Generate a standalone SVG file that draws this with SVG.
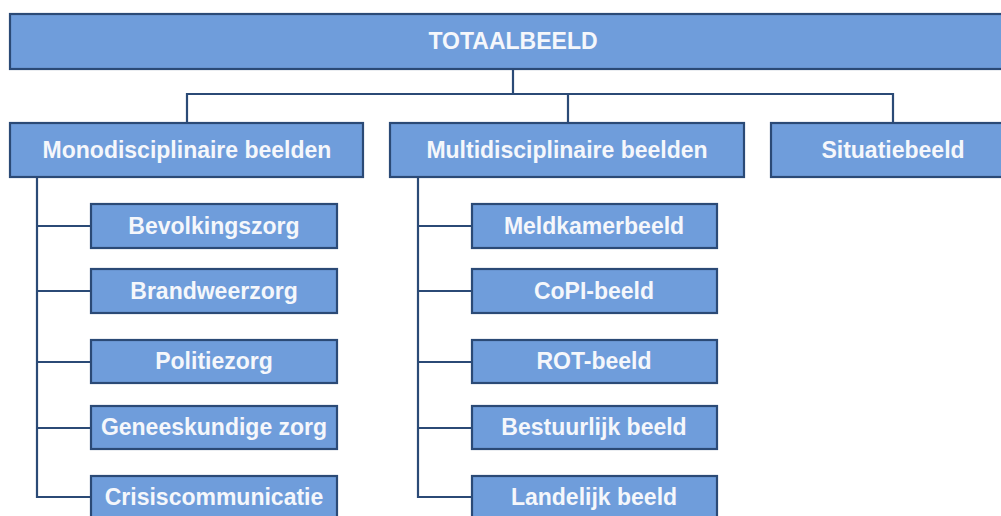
<svg xmlns="http://www.w3.org/2000/svg" width="1001" height="516" viewBox="0 0 1001 516">
<style>
.box{fill:#6f9ddb;stroke:#2b4a76;stroke-width:2.2}
.lbl{font-family:"Liberation Sans",Arial,sans-serif;font-weight:bold;font-size:23px;fill:#f5f7fb;text-anchor:middle}
.con{fill:none;stroke:#2b4a76;stroke-width:2.2}
</style>
<rect width="1001" height="516" fill="#ffffff"/>
<g id="connectors">
<path class="con" d="M513 69V94M187 122V94H893V122M568 94V122"/>
<path class="con" d="M37 177V497H91M37 226H91M37 291H91M37 362H91M37 428H91"/>
<path class="con" d="M418 177V497H472M418 226H472M418 291H472M418 362H472M418 428H472"/>
</g>
<g id="totaalbeeld"><rect class="box" x="10" y="14" width="1010" height="55"/><text class="lbl" x="513" y="49">TOTAALBEELD</text></g>
<g id="mono"><rect class="box" x="10" y="123" width="353" height="54"/><text class="lbl" x="187" y="158">Monodisciplinaire beelden</text></g>
<g id="multi"><rect class="box" x="390" y="123" width="354" height="54"/><text class="lbl" x="567" y="158">Multidisciplinaire beelden</text></g>
<g id="situatie"><rect class="box" x="771" y="123" width="244" height="54"/><text class="lbl" x="893" y="158">Situatiebeeld</text></g>
<g id="bevolking"><rect class="box" x="91" y="204" width="246" height="44"/><text class="lbl" x="214" y="234">Bevolkingszorg</text></g>
<g id="brandweer"><rect class="box" x="91" y="269" width="246" height="44"/><text class="lbl" x="214" y="299">Brandweerzorg</text></g>
<g id="politie"><rect class="box" x="91" y="340" width="246" height="43"/><text class="lbl" x="214" y="369">Politiezorg</text></g>
<g id="geneeskundig"><rect class="box" x="91" y="406" width="246" height="43"/><text class="lbl" x="214" y="435">Geneeskundige zorg</text></g>
<g id="crisis"><rect class="box" x="91" y="476" width="246" height="44"/><text class="lbl" x="214" y="505">Crisiscommunicatie</text></g>
<g id="meldkamer"><rect class="box" x="472" y="204" width="245" height="44"/><text class="lbl" x="594" y="234">Meldkamerbeeld</text></g>
<g id="copi"><rect class="box" x="472" y="269" width="245" height="44"/><text class="lbl" x="594" y="299">CoPI-beeld</text></g>
<g id="rot"><rect class="box" x="472" y="340" width="245" height="43"/><text class="lbl" x="594" y="369">ROT-beeld</text></g>
<g id="bestuurlijk"><rect class="box" x="472" y="406" width="245" height="43"/><text class="lbl" x="594" y="435">Bestuurlijk beeld</text></g>
<g id="landelijk"><rect class="box" x="472" y="476" width="245" height="44"/><text class="lbl" x="594" y="505">Landelijk beeld</text></g>
</svg>
